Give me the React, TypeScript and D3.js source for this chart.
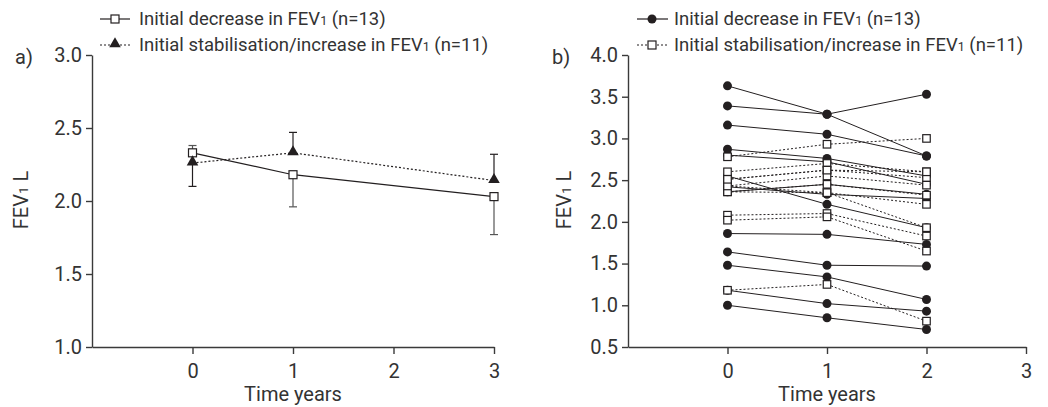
import React, { useEffect, useRef } from "react";
import * as d3 from "d3";

// panel a: group means (years 0, 1, 3)
const timesA = [0, 1, 3];
const decMean = [2.33, 2.18, 2.03];
const decBar = [2.38, 1.96, 1.77]; // one-sided error bar end
const stabMean = [2.26, 2.33, 2.14];
const stabBar = [2.1, 2.47, 2.32];

// panel b: individual patients (years 0, 1, 2)
const timesB = [0, 1, 2];
const decPatients = [
  [3.63, 3.29, 2.79],
  [3.39, 3.29, 3.53],
  [3.16, 3.05, 2.79],
  [2.87, 2.76, 2.55],
  [2.8, 2.72, 2.45],
  [2.55, 2.21, 1.93],
  [2.42, 2.33, 2.28],
  [2.36, 2.45, 2.33],
  [1.86, 1.85, 1.73],
  [1.64, 1.48, 1.47],
  [1.48, 1.34, 1.07],
  [1.18, 1.02, 0.93],
  [1.0, 0.85, 0.71],
];
const stabPatients = [
  [2.78, 2.93, 3.0],
  [2.6, 2.7, 2.6],
  [2.51, 2.62, 2.53],
  [2.43, 2.55, 2.44],
  [2.36, 2.45, 2.32],
  [2.36, 2.35, 2.21],
  [2.43, 2.35, 1.93],
  [2.08, 2.1, 1.83],
  [2.02, 2.06, 1.65],
  [1.18, 1.25, 0.81],
  [2.51, 2.62, 2.6],
];

const xTicks = [0, 1, 2, 3];
const yTicksA = [1.0, 1.5, 2.0, 2.5, 3.0];
const yTicksB = [0.5, 1.0, 1.5, 2.0, 2.5, 3.0, 3.5, 4.0];

const FONT = "Roboto, 'Noto Sans', sans-serif";
const INK = "#231f20";

const xA = d3.scaleLinear().domain([-1, 3]).range([92, 494]);
const yA = d3.scaleLinear().domain([1, 3]).range([347, 55]);
const xB = d3.scaleLinear().domain([-1, 3]).range([628, 1026]);
const yB = d3.scaleLinear().domain([0.5, 4]).range([347, 55]);

const tri = d3.symbol().type(d3.symbolTriangle).size(58)();

function Square({ x, y, s = 8 }: { x: number; y: number; s?: number }) {
  return <rect x={x - s / 2} y={y - s / 2} width={s} height={s} fill="#fff" stroke={INK} strokeWidth={1.2} />;
}

function Fev({ x, y, size, rotate }: { x: number; y: number; size: number; rotate?: boolean }) {
  return (
    <text x={x} y={y} fontSize={size} textAnchor="middle" transform={rotate ? `rotate(-90 ${x} ${y})` : undefined}>
      FEV<tspan fontSize={size * 0.68}>1</tspan> L
    </text>
  );
}

function Axes({ x, y, yTicks }: { x: any; y: any; yTicks: number[] }) {
  const gx = useRef<SVGGElement>(null);
  const gy = useRef<SVGGElement>(null);
  useEffect(() => {
    const ax = d3.select(gx.current!);
    ax.selectAll("*").remove();
    ax.call(d3.axisBottom(x).tickValues(xTicks).tickSize(7).tickSizeOuter(0).tickPadding(10).tickFormat(d3.format("d")));
    const ay = d3.select(gy.current!);
    ay.selectAll("*").remove();
    ay.call(d3.axisLeft(y).tickValues(yTicks).tickSize(6).tickSizeOuter(0).tickPadding(4).tickFormat(d3.format(".1f")));
    [ax, ay].forEach((g) => {
      g.attr("font-family", FONT).attr("font-size", 20);
      g.selectAll("path,line").attr("stroke", "#3a3a3a").attr("stroke-width", 1.4);
      g.selectAll("text").attr("fill", "#333");
    });
  }, [x, y, yTicks]);
  return (
    <g>
      <g ref={gx} transform={`translate(0,${y.range()[0]})`} />
      <g ref={gy} transform={`translate(${x.range()[0]},0)`} />
    </g>
  );
}

export default function App() {
  const lineA = d3.line<number>().x((_, i) => xA(timesA[i])).y((d) => yA(d));
  const lineB = d3.line<number>().x((_, i) => xB(timesB[i])).y((d) => yB(d));

  return (
    <svg width={1048} height={407} style={{ display: "block", position: "absolute", left: 0, top: 0 }} fontFamily={FONT} fill="#333">
      {/* legends */}
      <g fontSize={18.5}>
        <line x1={100} x2={130} y1={19} y2={19} stroke={INK} strokeWidth={1.2} />
        <Square x={115} y={19} />
        <text x={139} y={25}>Initial decrease in FEV<tspan fontSize={12.5}>1</tspan> (n=13)</text>
        <line x1={100} x2={130} y1={45} y2={45} stroke={INK} strokeWidth={1.2} strokeDasharray="2,2" />
        <path d={tri} transform="translate(115,44)" fill={INK} />
        <text x={139} y={51}>Initial stabilisation/increase in FEV<tspan fontSize={12.5}>1</tspan> (n=11)</text>

        <line x1={637} x2={668} y1={19} y2={19} stroke={INK} strokeWidth={1.2} />
        <circle cx={652} cy={19} r={4.5} fill={INK} />
        <text x={674} y={25}>Initial decrease in FEV<tspan fontSize={12.5}>1</tspan> (n=13)</text>
        <line x1={637} x2={668} y1={45} y2={45} stroke={INK} strokeWidth={1.2} strokeDasharray="2,2" />
        <Square x={652} y={45} />
        <text x={674} y={51}>Initial stabilisation/increase in FEV<tspan fontSize={12.5}>1</tspan> (n=11)</text>
      </g>

      {/* panel labels */}
      <text x={15} y={64} fontSize={20}>a)</text>
      <text x={552} y={64} fontSize={20}>b)</text>

      {/* panel a */}
      <Axes x={xA} y={yA} yTicks={yTicksA} />
      <Fev x={28} y={200} size={20} rotate />
      <text x={xA(1)} y={401} fontSize={20} textAnchor="middle">Time years</text>
      <g stroke={INK} strokeWidth={1.2}>
        {timesA.map((t, i) => (
          <g key={"ea" + i}>
            <line x1={xA(t)} x2={xA(t)} y1={yA(decMean[i])} y2={yA(decBar[i])} stroke="#555" />
            <line x1={xA(t) - 4} x2={xA(t) + 4} y1={yA(decBar[i])} y2={yA(decBar[i])} stroke="#555" />
            <line x1={xA(t)} x2={xA(t)} y1={yA(stabMean[i])} y2={yA(stabBar[i])} />
            <line x1={xA(t) - 4} x2={xA(t) + 4} y1={yA(stabBar[i])} y2={yA(stabBar[i])} />
          </g>
        ))}
      </g>
      <path d={lineA(decMean)!} fill="none" stroke={INK} strokeWidth={1.2} />
      <path d={lineA(stabMean)!} fill="none" stroke={INK} strokeWidth={1.2} strokeDasharray="2,2" />
      {decMean.map((v, i) => (
        <Square key={"sa" + i} x={xA(timesA[i])} y={yA(v)} />
      ))}
      {stabMean.map((v, i) => (
        <path key={"ta" + i} d={tri} transform={`translate(${xA(timesA[i])},${yA(v) - 1})`} fill={INK} />
      ))}

      {/* panel b */}
      <Axes x={xB} y={yB} yTicks={yTicksB} />
      <Fev x={571} y={200} size={20} rotate />
      <text x={xB(1)} y={401} fontSize={20} textAnchor="middle">Time years</text>
      {decPatients.map((p, k) => (
        <path key={"dl" + k} d={lineB(p)!} fill="none" stroke={INK} strokeWidth={1} />
      ))}
      {stabPatients.map((p, k) => (
        <path key={"sl" + k} d={lineB(p)!} fill="none" stroke={INK} strokeWidth={1} strokeDasharray="2,2" />
      ))}
      {decPatients.map((p, k) =>
        p.map((v, i) => <circle key={`dc${k}-${i}`} cx={xB(timesB[i])} cy={yB(v)} r={4.5} fill={INK} />)
      )}
      {stabPatients.map((p, k) =>
        p.map((v, i) => <Square key={`sq${k}-${i}`} x={xB(timesB[i])} y={yB(v)} s={7.5} />)
      )}
    </svg>
  );
}
